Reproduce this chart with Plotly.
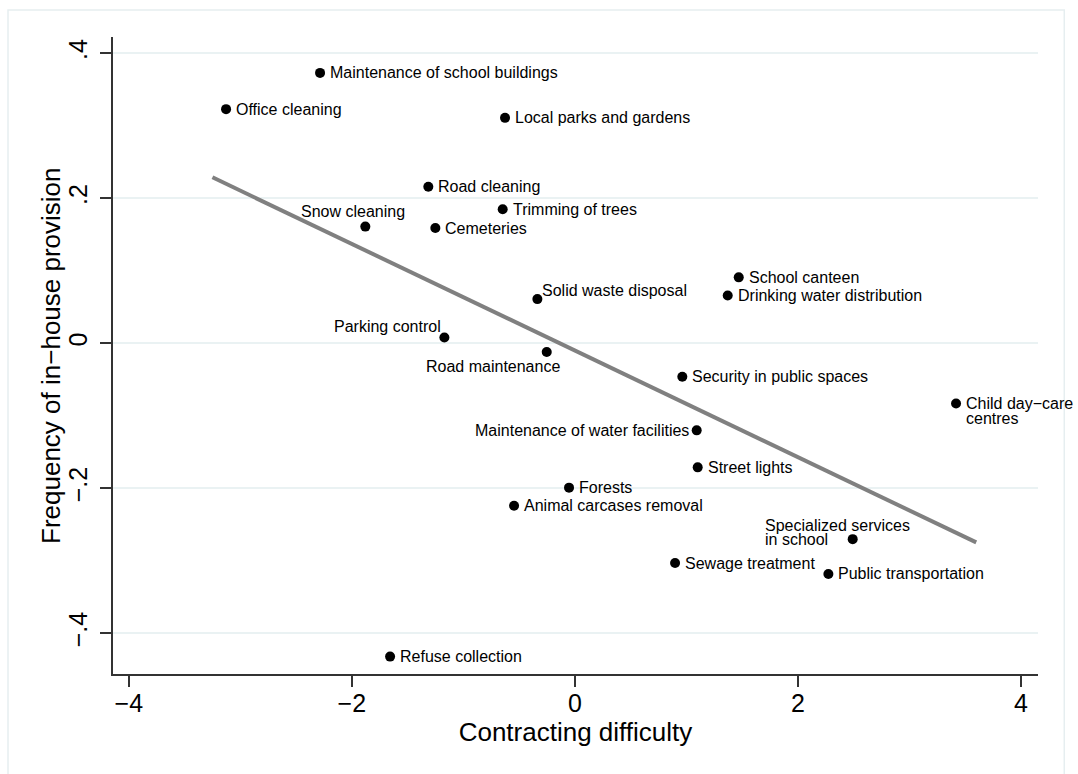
import plotly.graph_objects as go

# Municipal services: contracting difficulty vs. frequency of in-house provision
services = [
    "Maintenance of school buildings", "Office cleaning", "Local parks and gardens",
    "Road cleaning", "Trimming of trees", "Snow cleaning", "Cemeteries",
    "Solid waste disposal", "Parking control", "Road maintenance", "School canteen",
    "Drinking water distribution", "Security in public spaces", "Child day\u2212care centres",
    "Maintenance of water facilities", "Street lights", "Forests", "Animal carcases removal",
    "Specialized services in school", "Sewage treatment", "Public transportation",
    "Refuse collection",
]
difficulty = [
    -2.285, -3.128, -0.626, -1.314, -0.647, -1.879, -1.251, -0.336, -1.170, -0.252,
    1.470, 1.371, 0.964, 3.419, 1.093, 1.102, -0.052, -0.545, 2.492, 0.899, 2.274, -1.657,
]
inhouse = [
    0.373, 0.323, 0.311, 0.216, 0.185, 0.161, 0.159, 0.061, 0.008, -0.012,
    0.091, 0.066, -0.046, -0.083, -0.120, -0.171, -0.199, -0.224, -0.270, -0.303, -0.318, -0.432,
]

# Fitted line (linear prediction) at the ends of its range
fit_x = [-3.25, 3.60]
fit_y = [0.229, -0.2745]

x_ticks = [-4, -2, 0, 2, 4]
x_ticktext = ["\u22124", "\u22122", "0", "2", "4"]
y_ticks = [-0.4, -0.2, 0, 0.2, 0.4]
y_ticktext = ["\u2212.4", "\u2212.2", "0", ".2", ".4"]

FONT = "Liberation Sans, Arial, sans-serif"

# Label placement: name -> list of (line text, xanchor, xshift, yshift)
def default_place(n):
    return [(n, "left", 8, 0)]

placements = {
    "Snow cleaning": [("Snow cleaning", "right", 42, 15)],
    "Parking control": [("Parking control", "right", -1, 11)],
    "Road maintenance": [("Road maintenance", "right", 15, -14)],
    "Solid waste disposal": [("Solid waste disposal", "left", 3, 9)],
    "Maintenance of water facilities": [("Maintenance of water facilities", "right", -6, 0)],
    "Specialized services in school": [("Specialized services", "left", -90, 14),
                                       ("in school", "left", -90, 0)],
    "Child day\u2212care centres": [("Child day\u2212care", "left", 8, 0),
                                    ("centres", "left", 8, -15)],
}

fig = go.Figure()
fig.add_trace(go.Scatter(
    x=difficulty, y=inhouse, mode="markers",
    marker=dict(color="black", size=10, line=dict(width=0)),
    showlegend=False, hoverinfo="skip",
))
fig.add_trace(go.Scatter(
    x=fit_x, y=fit_y, mode="lines",
    line=dict(color="#808080", width=4),
    showlegend=False, hoverinfo="skip",
))

annotations = []
for name, xv, yv in zip(services, difficulty, inhouse):
    for text, xa, dx, dy in placements.get(name, default_place(name)):
        annotations.append(dict(
            x=xv, y=yv, xref="x", yref="y", text=text, showarrow=False,
            xanchor=xa, yanchor="middle", xshift=dx, yshift=dy, align="left",
            font=dict(family=FONT, size=16, color="black"),
        ))

# y-axis title
annotations.append(dict(
    x=-0.0676, y=0.5, xref="paper", yref="paper",
    text="Frequency of in\u2212house provision", textangle=-90, showarrow=False,
    xanchor="center", yanchor="middle",
    font=dict(family=FONT, size=26, color="black"),
))

fig.update_layout(
    width=1078, height=774,
    margin=dict(l=113, r=40, t=37, b=100),
    paper_bgcolor="white", plot_bgcolor="white",
    font=dict(family=FONT, color="black"),
    annotations=annotations,
    shapes=[dict(type="rect", xref="paper", yref="paper",
                 x0=-0.1135, x1=1.0284, y0=-0.2, y1=1.0424,
                 line=dict(color="#e6eef0", width=1.5), layer="below")],
)
fig.update_xaxes(
    range=[-4.142, 4.154], tickvals=x_ticks, ticktext=x_ticktext,
    showgrid=False, zeroline=False,
    showline=True, linecolor="#333333", linewidth=1.5,
    ticks="outside", ticklen=11, tickwidth=1.5, tickcolor="#333333",
    ticklabelstandoff=-5,
    tickfont=dict(family=FONT, size=25, color="black"),
    title=dict(text="Contracting difficulty", font=dict(family=FONT, size=26, color="black"), standoff=3),
)
fig.update_yaxes(
    range=[-0.456, 0.4225], tickvals=y_ticks, ticktext=y_ticktext,
    showgrid=True, gridcolor="#eaf2f3", gridwidth=2,
    zeroline=False,
    showline=True, linecolor="#333333", linewidth=1.5,
    ticks="outside", ticklen=11, tickwidth=1.5, tickcolor="#333333",
    tickangle=-90, ticklabelstandoff=3,
    tickfont=dict(family=FONT, size=25, color="black"),
)

fig.write_html("out.html")
